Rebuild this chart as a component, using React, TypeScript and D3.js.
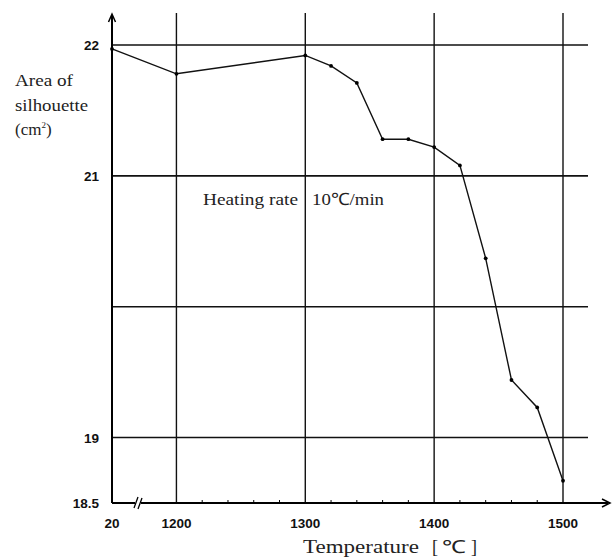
import * as React from "react";
import * as d3 from "d3";

// measured points (temperature in deg C, silhouette area in cm2)
const temps = [20, 1200, 1300, 1320, 1340, 1360, 1380, 1400, 1420, 1440, 1460, 1480, 1500];
const areas = [21.97, 21.78, 21.92, 21.84, 21.71, 21.28, 21.28, 21.22, 21.08, 20.37, 19.44, 19.23, 18.67];

const xTicks = [20, 1200, 1300, 1400, 1500];
const xMinorTicks = [1220, 1240, 1260, 1280, 1320, 1340, 1360, 1380, 1420, 1440, 1460, 1480];
const yGrid = [22, 21, 20, 19];
const yTickLabels = ["22", "21", "19", "18.5"];
const yTickValues = [22, 21, 19, 18.5];

const W = 612;
const H = 559;

export default function App() {
  const ref = React.useRef<SVGSVGElement>(null);

  React.useEffect(() => {
    const svg = d3.select(ref.current);
    svg.selectAll("*").remove();

    // broken axis: everything from 20 to 1150 collapses onto the origin
    const x = d3.scaleLinear().domain([20, 1150, 1500]).range([112, 112, 563]);
    const y = d3.scaleLinear().domain([18.5, 22]).range([503, 45]);
    const x0 = 112;
    const y0 = y(18.5);
    const gridRight = 588;
    const gridTop = 13;

    const g = svg.append("g");

    // horizontal grid
    g.selectAll("line.hgrid")
      .data(yGrid)
      .enter()
      .append("line")
      .attr("class", "hgrid")
      .attr("x1", x0)
      .attr("x2", gridRight)
      .attr("y1", (d) => y(d))
      .attr("y2", (d) => y(d))
      .attr("stroke", "#111")
      .attr("stroke-width", 1.6);

    // vertical grid
    g.selectAll("line.vgrid")
      .data(xTicks.slice(1))
      .enter()
      .append("line")
      .attr("class", "vgrid")
      .attr("x1", (d) => x(d))
      .attr("x2", (d) => x(d))
      .attr("y1", gridTop)
      .attr("y2", y0)
      .attr("stroke", "#111")
      .attr("stroke-width", 1.4);

    // axes with arrows
    g.append("line")
      .attr("x1", x0).attr("x2", 608)
      .attr("y1", y0).attr("y2", y0)
      .attr("stroke", "#000").attr("stroke-width", 2);
    g.append("path")
      .attr("d", `M602,${y0 - 4} L610,${y0} L602,${y0 + 4}`)
      .attr("fill", "none").attr("stroke", "#000").attr("stroke-width", 1.5);
    g.append("line")
      .attr("x1", x0).attr("x2", x0)
      .attr("y1", y0).attr("y2", 16)
      .attr("stroke", "#000").attr("stroke-width", 2);
    g.append("path")
      .attr("d", `M${x0 - 3.5},22 L${x0},14 L${x0 + 3.5},22`)
      .attr("fill", "none").attr("stroke", "#000").attr("stroke-width", 1.5);

    // break mark on the x axis
    g.append("rect")
      .attr("x", 135).attr("y", y0 - 6).attr("width", 6).attr("height", 12)
      .attr("fill", "#fff");
    g.append("path")
      .attr("d", `M134,${y0 + 5} L138,${y0 - 6} M138,${y0 + 6} L142,${y0 - 5}`)
      .attr("stroke", "#000").attr("stroke-width", 1.3).attr("fill", "none");

    // minor ticks
    g.selectAll("line.minor")
      .data(xMinorTicks)
      .enter()
      .append("line")
      .attr("x1", (d) => x(d))
      .attr("x2", (d) => x(d))
      .attr("y1", y0)
      .attr("y2", y0 - 3)
      .attr("stroke", "#000")
      .attr("stroke-width", 1);

    // tick labels
    const tickFont = "'Liberation Sans', Arial, sans-serif";
    g.selectAll("text.xt")
      .data(xTicks)
      .enter()
      .append("text")
      .attr("x", (d) => x(d))
      .attr("y", 528)
      .attr("text-anchor", "middle")
      .style("font-family", tickFont)
      .style("font-weight", "bold")
      .style("font-size", "13.5px")
      .attr("fill", "#111")
      .text((d) => String(d));

    g.selectAll("text.yt")
      .data(yTickValues)
      .enter()
      .append("text")
      .attr("x", 99)
      .attr("y", (d) => y(d) + 5)
      .attr("text-anchor", "end")
      .style("font-family", tickFont)
      .style("font-weight", "bold")
      .style("font-size", "13.5px")
      .attr("fill", "#111")
      .text((d, i) => yTickLabels[i]);

    // data line
    const pts = temps.map((t, i) => [t, areas[i]] as [number, number]);
    const line = d3.line<[number, number]>()
      .x((d) => x(d[0]))
      .y((d) => y(d[1]));
    g.append("path")
      .datum(pts)
      .attr("d", line)
      .attr("fill", "none")
      .attr("stroke", "#111")
      .attr("stroke-width", 1.4);
    g.selectAll("circle.pt")
      .data(pts)
      .enter()
      .append("circle")
      .attr("cx", (d) => x(d[0]))
      .attr("cy", (d) => y(d[1]))
      .attr("r", 1.9)
      .attr("fill", "#000");

    // labels
    const serif = "'Liberation Serif', 'Times New Roman', serif";
    const lab = (tx: number, ty: number, s: string, len: number | null, size = 17) => {
      const t = g.append("text")
        .attr("x", tx)
        .attr("y", ty)
        .style("font-family", serif)
        .style("font-size", `${size}px`)
        .attr("fill", "#222")
        .text(s);
      if (len) t.attr("textLength", len).attr("lengthAdjust", "spacingAndGlyphs");
      return t;
    };

    lab(15, 86, "Area of", 58);
    lab(15, 111, "silhouette", 73);
    const cm = g.append("text")
      .attr("x", 15)
      .attr("y", 135)
      .style("font-family", serif)
      .style("font-size", "17px")
      .attr("fill", "#222");
    cm.append("tspan").text("(cm");
    cm.append("tspan").attr("dy", -7).style("font-size", "9px").text("2");
    cm.append("tspan").attr("dy", 7).text(")");

    lab(203, 205, "Heating rate", 95);
    lab(312, 205, "10℃/min", 72);

    lab(303, 553, "Temperature", 116, 18);
    lab(432, 553, "[", null, 18);
    lab(442, 553, "℃", 24, 18);
    lab(471, 553, "]", null, 18);
  }, []);

  return (
    <svg
      ref={ref}
      width={W}
      height={H}
      style={{ position: "absolute", left: 0, top: 0, background: "#fff" }}
    />
  );
}
